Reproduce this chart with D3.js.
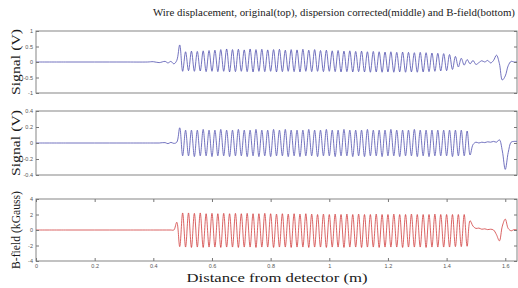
<!DOCTYPE html>
<html>
<head>
<meta charset="utf-8">
<script src="https://cdn.jsdelivr.net/npm/d3@7"></script>
<style>
  html, body { margin: 0; padding: 0; background: #fff; }
  svg { display: block; }
</style>
</head>
<body>
<div id="chart"></div>
<script>
// ---------------- DATA ----------------
const titleText = "Wire displacement, original(top), dispersion corrected(middle) and B-field(bottom)";
const xLabelText = "Distance from detector (m)";
const yLabels = ["Signal (V)", "Signal (V)", "B-field (kGauss)"];

const xTicks = [0, 0.2, 0.4, 0.6, 0.8, 1, 1.2, 1.4, 1.6];
const xDomain = [0, 1.64];
const yTicksOriginal = [-1, -0.5, 0, 0.5, 1];
const yTicksCorrected = [-0.4, -0.2, 0, 0.2, 0.4];
const yTicksBField = [-4, -2, 0, 2, 4];

// distance (m) of every sample
const distance = [
  0, 0.10, 0.20, 0.30, 0.38, 0.40, 0.42, 0.44, 0.45, 0.46, 0.47, 0.48,
  0.49, 0.50, 0.51, 0.52, 0.53, 0.54, 0.55, 0.56, 0.57, 0.58,
  0.59, 0.60, 0.61, 0.62, 0.63, 0.64, 0.65, 0.66, 0.67, 0.68,
  0.69, 0.70, 0.71, 0.72, 0.73, 0.74, 0.75, 0.76, 0.77, 0.78,
  0.79, 0.80, 0.81, 0.82, 0.83, 0.84, 0.85, 0.86, 0.87, 0.88,
  0.89, 0.90, 0.91, 0.92, 0.93, 0.94, 0.95, 0.96, 0.97, 0.98,
  0.99, 1.00, 1.01, 1.02, 1.03, 1.04, 1.05, 1.06, 1.07, 1.08,
  1.09, 1.10, 1.11, 1.12, 1.13, 1.14, 1.15, 1.16, 1.17, 1.18,
  1.19, 1.20, 1.21, 1.22, 1.23, 1.24, 1.25, 1.26, 1.27, 1.28,
  1.29, 1.30, 1.31, 1.32, 1.33, 1.34, 1.35, 1.36, 1.37, 1.38,
  1.39, 1.40, 1.41, 1.42, 1.43, 1.44, 1.45, 1.46, 1.47, 1.48,
  1.49, 1.50, 1.51, 1.52, 1.53, 1.54, 1.55, 1.56, 1.57, 1.58,
  1.59, 1.60, 1.61, 1.62, 1.63, 1.64
];

// original wire displacement signal (V)
const originalSignal = [
  0, 0, 0, 0, 0, 0.01, -0.02, 0.02, -0.03, 0.02, -0.06, 0.05,
  0.55, -0.30, 0.33, -0.28, 0.35, -0.30, 0.34, -0.29, 0.36, -0.31,
  0.37, -0.30, 0.38, -0.31, 0.40, -0.30, 0.42, -0.32, 0.40, -0.31,
  0.41, -0.30, 0.39, -0.31, 0.42, -0.32, 0.40, -0.30, 0.41, -0.31,
  0.39, -0.30, 0.40, -0.32, 0.41, -0.31, 0.38, -0.30, 0.40, -0.31,
  0.39, -0.32, 0.41, -0.30, 0.38, -0.31, 0.40, -0.30, 0.37, -0.31,
  0.38, -0.30, 0.36, -0.31, 0.37, -0.32, 0.35, -0.31, 0.36, -0.32,
  0.34, -0.31, 0.35, -0.32, 0.33, -0.33, 0.34, -0.32, 0.33, -0.33,
  0.32, -0.32, 0.33, -0.33, 0.31, -0.32, 0.32, -0.33, 0.31, -0.32,
  0.30, -0.33, 0.31, -0.32, 0.30, -0.31, 0.29, -0.30, 0.28, -0.29,
  0.27, -0.28, 0.24, -0.24, 0.18, -0.16, 0.12, -0.10, 0.08, -0.06,
  0.05, -0.08, -0.02, 0.04, 0.00, 0.05, -0.03, 0.05, 0.22, -0.05,
  -0.58, -0.45, -0.12, 0.02, 0.00, 0.00
];

// dispersion corrected signal (V)
const correctedSignal = [
  0, 0, 0, 0, 0, 0, 0, 0.005, -0.008, 0.008, -0.005, 0.01,
  0.19, -0.16, 0.16, -0.16, 0.16, -0.17, 0.16, -0.16, 0.17, -0.16,
  0.16, -0.17, 0.16, -0.16, 0.17, -0.16, 0.16, -0.17, 0.16, -0.16,
  0.17, -0.16, 0.16, -0.17, 0.16, -0.16, 0.17, -0.17, 0.16, -0.16,
  0.16, -0.17, 0.17, -0.16, 0.16, -0.16, 0.17, -0.17, 0.16, -0.16,
  0.16, -0.17, 0.16, -0.16, 0.17, -0.16, 0.16, -0.17, 0.16, -0.16,
  0.17, -0.16, 0.16, -0.17, 0.16, -0.16, 0.17, -0.16, 0.16, -0.17,
  0.16, -0.16, 0.16, -0.17, 0.17, -0.16, 0.16, -0.16, 0.16, -0.17,
  0.16, -0.16, 0.17, -0.16, 0.16, -0.17, 0.16, -0.16, 0.16, -0.16,
  0.17, -0.17, 0.16, -0.16, 0.16, -0.17, 0.16, -0.16, 0.16, -0.16,
  0.16, -0.16, 0.16, -0.17, 0.16, -0.16, 0.16, -0.16, 0.15, -0.15,
  -0.02, 0.01, 0.00, 0.01, 0.005, 0.015, 0.01, 0.02, 0.01, 0.04,
  -0.10, -0.33, -0.12, 0.01, 0.02, 0.02
];

// B-field (kGauss)
const bField = [
  0, 0, 0, 0, 0, 0, 0, 0, 0, 0, 0, 1.0,
  -2.15, 2.2, -2.2, 2.2, -2.25, 2.15, -2.2, 2.2, -2.25, 2.1,
  -2.2, 2.15, -2.2, 2.1, -2.25, 2.15, -2.2, 2.1, -2.2, 2.15,
  -2.25, 2.1, -2.2, 2.15, -2.2, 2.1, -2.25, 2.1, -2.2, 2.15,
  -2.2, 2.1, -2.25, 2.05, -2.2, 2.1, -2.2, 2.05, -2.25, 2.1,
  -2.2, 2.05, -2.2, 2.1, -2.25, 2.05, -2.2, 2.0, -2.2, 2.05,
  -2.25, 2.0, -2.2, 2.05, -2.2, 2.0, -2.25, 2.05, -2.2, 2.0,
  -2.2, 2.05, -2.25, 2.0, -2.2, 2.0, -2.2, 2.05, -2.25, 2.0,
  -2.2, 2.0, -2.2, 2.05, -2.2, 2.0, -2.25, 2.0, -2.2, 2.05,
  -2.2, 2.0, -2.2, 2.0, -2.25, 2.0, -2.2, 2.05, -2.2, 2.0,
  -2.2, 2.0, -2.2, 2.0, -2.15, 2.0, -2.15, 2.0, -2.1, 1.2,
  0.5, 0.2, 0.25, 0.1, 0.15, 0.05, 0.1, 0.0, -0.6, -1.4,
  0.5, 1.4, 0.2, -0.1, 0.05, 0.0
];

// ---------------- DRAW ----------------
const W = 518, H = 288;
const left = 36, right = 517;

const svg = d3.select("#chart").append("svg")
  .attr("width", W).attr("height", H);

const x = d3.scaleLinear().domain(xDomain).range([left, right]);

const panels = [
  { top: 31, bottom: 93, domain: [-1, 1], ticks: yTicksOriginal, values: originalSignal, color: "#4f4fae", label: yLabels[0], labelLen: 66 },
  { top: 111, bottom: 175, domain: [-0.4, 0.4], ticks: yTicksCorrected, values: correctedSignal, color: "#4f4fae", label: yLabels[1], labelLen: 66 },
  { top: 199, bottom: 261, domain: [-4, 4], ticks: yTicksBField, values: bField, color: "#d03c3c", label: yLabels[2], labelLen: 78 }
];

const tickFont = "Liberation Sans, Arial, sans-serif";
const serif = "Liberation Serif, DejaVu Serif, serif";

panels.forEach((p, idx) => {
  const y = d3.scaleLinear().domain(p.domain).range([p.bottom, p.top]);
  const g = svg.append("g");

  // frame
  g.append("rect")
    .attr("x", left).attr("y", p.top)
    .attr("width", right - left).attr("height", p.bottom - p.top)
    .attr("fill", "#fff").attr("stroke", "#858585").attr("stroke-width", 1);

  // signal
  const line = d3.line()
    .x((d, i) => x(distance[i]))
    .y(d => y(d))
    .curve(d3.curveCatmullRom.alpha(0.5));
  g.append("path")
    .datum(p.values)
    .attr("d", line)
    .attr("fill", "none")
    .attr("stroke", p.color)
    .attr("stroke-width", 0.8);

  // left y-axis
  const ay = g.append("g").attr("transform", `translate(${left},0)`)
    .call(d3.axisLeft(y).tickValues(p.ticks).tickSizeInner(-3).tickSizeOuter(0)
      .tickPadding(3).tickFormat(d => String(d)));
  // right y-axis ticks
  const ayr = g.append("g").attr("transform", `translate(${right},0)`)
    .call(d3.axisRight(y).tickValues(p.ticks).tickSizeInner(-3).tickSizeOuter(0)
      .tickFormat(() => ""));
  [ay, ayr].forEach(a => {
    a.select(".domain").remove();
    a.selectAll(".tick line").attr("stroke", "#777");
    a.selectAll("text").attr("font-family", tickFont).attr("font-size", 5.5).attr("fill", "#555");
  });

  // y label
  const cy = (p.top + p.bottom) / 2;
  g.append("text")
    .attr("transform", `translate(15,${cy}) rotate(-90)`)
    .attr("text-anchor", "middle")
    .attr("dominant-baseline", "central")
    .attr("font-family", serif)
    .attr("font-size", 13)
    .attr("textLength", p.labelLen)
    .attr("lengthAdjust", "spacingAndGlyphs")
    .attr("fill", "#1a1a1a")
    .text(p.label);

  if (idx === 2) {
    const ax = g.append("g").attr("transform", `translate(0,${p.bottom})`)
      .call(d3.axisBottom(x).tickValues(xTicks).tickSizeInner(-3).tickSizeOuter(0)
        .tickPadding(3).tickFormat(d => String(d)));
    const axt = g.append("g").attr("transform", `translate(0,${p.top})`)
      .call(d3.axisTop(x).tickValues(xTicks).tickSizeInner(-3).tickSizeOuter(0)
        .tickFormat(() => ""));
    [ax, axt].forEach(a => {
      a.select(".domain").remove();
      a.selectAll(".tick line").attr("stroke", "#777");
      a.selectAll("text").attr("font-family", tickFont).attr("font-size", 5.5).attr("fill", "#555");
    });
  }
});

// title
svg.append("text")
  .attr("x", 334).attr("y", 16)
  .attr("text-anchor", "middle")
  .attr("font-family", serif)
  .attr("font-size", 10.5)
  .attr("textLength", 362)
  .attr("lengthAdjust", "spacingAndGlyphs")
  .attr("fill", "#1a1a1a")
  .text(titleText);

// x label
svg.append("text")
  .attr("x", 277).attr("y", 282)
  .attr("text-anchor", "middle")
  .attr("font-family", serif)
  .attr("font-size", 13.5)
  .attr("textLength", 181)
  .attr("lengthAdjust", "spacingAndGlyphs")
  .attr("fill", "#1a1a1a")
  .text(xLabelText);
</script>
</body>
</html>
